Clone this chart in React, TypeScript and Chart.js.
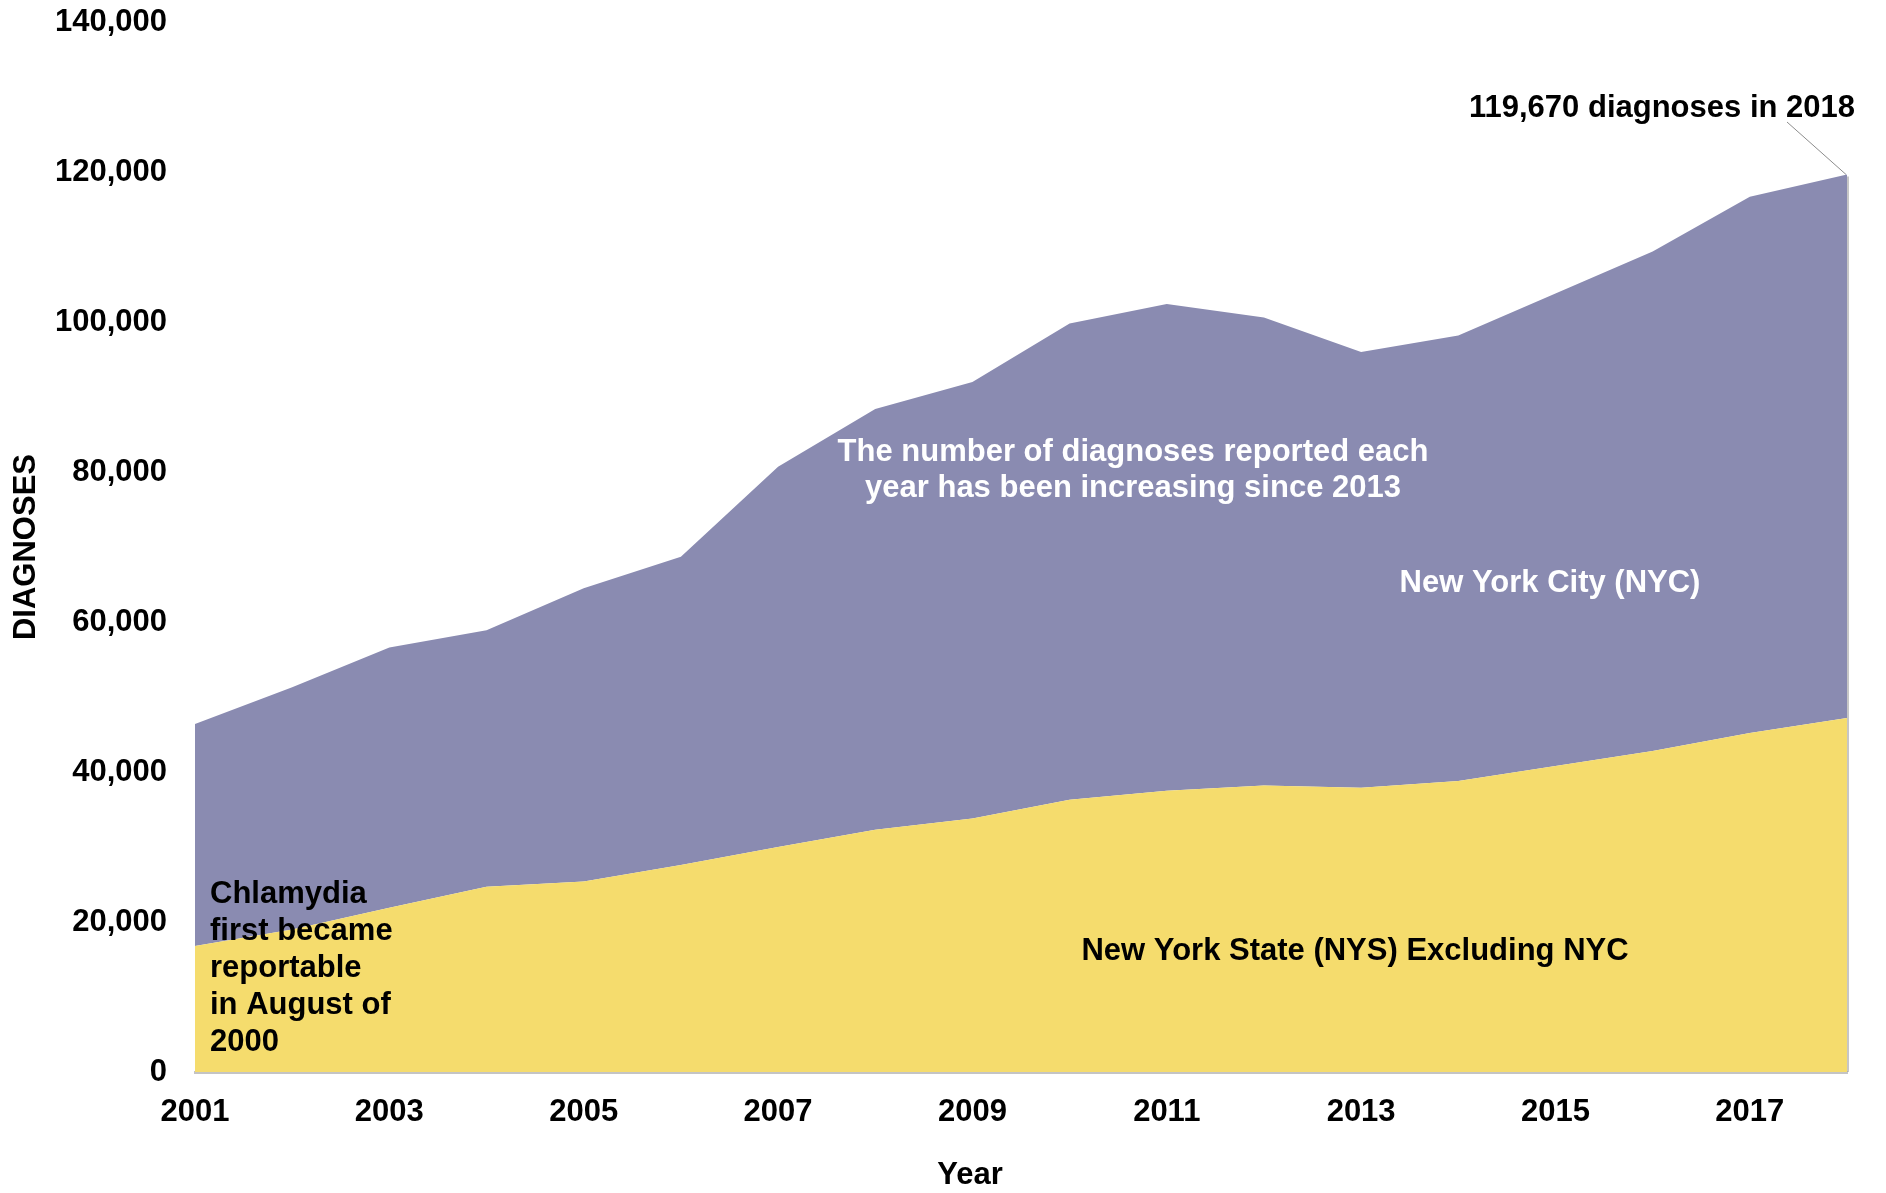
import React, { useEffect, useRef } from "react";
import { Chart, registerables } from "chart.js";

Chart.register(...registerables);

const years = [
  "2001", "2002", "2003", "2004", "2005", "2006", "2007", "2008", "2009",
  "2010", "2011", "2012", "2013", "2014", "2015", "2016", "2017", "2018",
];

// New York State excluding NYC (bottom layer)
const nysExclNyc = [
  16800, 19000, 21900, 24700, 25400, 27600, 30000, 32300, 33800,
  36300, 37500, 38200, 37900, 38800, 40800, 42800, 45200, 47200,
];

// New York City (stacked on top)
const nyc = [
  29600, 32300, 34700, 34200, 39100, 41100, 50700, 56100, 58200,
  63500, 64900, 62400, 58100, 59400, 63000, 66600, 71500, 72470,
];

const yTicks = [0, 20000, 40000, 60000, 80000, 100000, 120000, 140000];

const totalLabel = "119,670 diagnoses in 2018";
const chlamydiaNote = ["Chlamydia", "first became", "reportable", "in August of", "2000"];
const trendNote = ["The number of diagnoses reported each", "year has been increasing since 2013"];
const nycLabel = "New York City (NYC)";
const nysLabel = "New York State (NYS) Excluding NYC";

const FONT_FAMILY = '"Liberation Sans", Arial, Helvetica, sans-serif';
const FONT = `bold 31px ${FONT_FAMILY}`;

const annotationPlugin = {
  id: "annotations",
  afterDraw(chart: any) {
    const ctx = chart.ctx;
    const xs = chart.scales.x;
    const ys = chart.scales.y;
    ctx.save();
    ctx.font = FONT;
    ctx.textBaseline = "middle";

    // right edge shadow
    const last = years.length - 1;
    const xr = xs.getPixelForValue(last);
    const yTop = ys.getPixelForValue(nysExclNyc[last] + nyc[last]);
    ctx.strokeStyle = "rgba(160,160,160,0.6)";
    ctx.lineWidth = 2;
    ctx.beginPath();
    ctx.moveTo(xr + 1, yTop + 2);
    ctx.lineTo(xr + 1, ys.getPixelForValue(0));
    ctx.stroke();

    // Chlamydia note
    ctx.fillStyle = "#000";
    ctx.textAlign = "left";
    chlamydiaNote.forEach((t, i) => ctx.fillText(t, 210, 894 + i * 37));

    // Trend note (white)
    ctx.fillStyle = "#ffffff";
    ctx.textAlign = "center";
    ctx.fillText(trendNote[0], 1133, 452);
    ctx.fillText(trendNote[1], 1133, 488);
    ctx.fillText(nycLabel, 1550, 583);

    // NYS label
    ctx.fillStyle = "#000";
    ctx.fillText(nysLabel, 1355, 951);

    // Total label with leader line
    ctx.fillText(totalLabel, 1662, 108);
    ctx.strokeStyle = "#8c8c8c";
    ctx.lineWidth = 1;
    ctx.beginPath();
    ctx.moveTo(1787, 122);
    ctx.lineTo(xr - 1, yTop);
    ctx.stroke();

    // Axis titles
    ctx.fillText("Year", 970, 1175);
    ctx.save();
    ctx.translate(26, 547);
    ctx.rotate(-Math.PI / 2);
    ctx.fillText("DIAGNOSES", 0, 0);
    ctx.restore();

    ctx.restore();
  },
};

export default function App() {
  const canvasRef = useRef<HTMLCanvasElement | null>(null);

  useEffect(() => {
    const canvas = canvasRef.current;
    if (!canvas) return;
    const chart = new Chart(canvas, {
      type: "line",
      data: {
        labels: years,
        datasets: [
          {
            label: "NYS Excluding NYC",
            data: nysExclNyc,
            backgroundColor: "#f5dc6d",
            borderWidth: 0,
            pointRadius: 0,
            fill: "origin",
            tension: 0,
          },
          {
            label: "NYC",
            data: nyc,
            backgroundColor: "#8a8bb1",
            borderWidth: 0,
            pointRadius: 0,
            fill: "-1",
            tension: 0,
          },
        ],
      },
      options: {
        animation: false,
        responsive: true,
        maintainAspectRatio: false,
        layout: { padding: { top: 22, right: 39, left: 0, bottom: 0 } },
        plugins: {
          legend: { display: false },
          tooltip: { enabled: false },
          title: { display: false },
        },
        scales: {
          x: {
            type: "category",
            offset: false,
            grid: { display: false, drawTicks: false },
            border: { display: true, color: "#c4c4c4", width: 3 },
            ticks: {
              autoSkip: false,
              maxRotation: 0,
              minRotation: 0,
              padding: 22,
              color: "#000",
              font: { family: FONT_FAMILY, size: 31, weight: "bold" },
              callback: (_v: any, i: number) => (i % 2 === 0 && i < years.length - 1 ? years[i] : ""),
            },
            afterFit: (scale: any) => {
              scale.height = 121;
              scale.paddingLeft = 0;
              scale.paddingRight = 0;
            },
          },
          y: {
            stacked: true,
            min: 0,
            max: 140000,
            grid: { display: false, drawTicks: false },
            border: { display: false },
            afterBuildTicks: (scale: any) => {
              scale.ticks = yTicks.map((v) => ({ value: v }));
            },
            ticks: {
              padding: 28,
              color: "#000",
              font: { family: FONT_FAMILY, size: 31, weight: "bold" },
              callback: (v: any) => Number(v).toLocaleString("en-US"),
            },
            afterFit: (scale: any) => {
              scale.width = 195;
              scale.paddingTop = 0;
              scale.paddingBottom = 0;
            },
          },
        },
      },
      plugins: [annotationPlugin],
    });
    return () => chart.destroy();
  }, []);

  return (
    <div style={{ position: "fixed", left: 0, top: 0, width: 1886, height: 1193, background: "#fff" }}>
      <canvas ref={canvasRef} />
    </div>
  );
}
